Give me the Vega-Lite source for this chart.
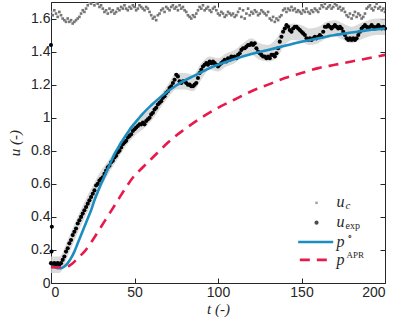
{
  "$schema": "https://vega.github.io/schema/vega-lite/v6.json",
  "width": 334,
  "height": 281,
  "autosize": {"type": "none"},
  "padding": {"left": 51, "top": 2, "right": 13, "bottom": 44},
  "config": {
    "view": {"stroke": "#262626", "strokeWidth": 1},
    "axis": {"domain": false, "grid": false, "tickColor": "#262626", "tickSize": -5, "labelFont": "Liberation Sans", "labelFontSize": 14, "labelColor": "#262626", "titleFont": "Liberation Serif", "titleFontStyle": "italic", "titleFontWeight": "normal", "titleFontSize": 15, "titleColor": "#262626"}
  },
  "datasets": {
    "uc": [
      {"t":0,"u":1.64},{"t":1,"u":1.62},{"t":2,"u":1.65},{"t":3,"u":1.63},{"t":4,"u":1.61},{"t":5,"u":1.64},{"t":6,"u":1.62},{"t":7,"u":1.60},
      {"t":8,"u":1.59},{"t":9,"u":1.58},{"t":10,"u":1.60},{"t":11,"u":1.58},{"t":12,"u":1.59},{"t":13,"u":1.57},{"t":14,"u":1.58},{"t":15,"u":1.59},{"t":16,"u":1.60},{"t":17,"u":1.61},
      {"t":18,"u":1.63},{"t":19,"u":1.65},{"t":20,"u":1.64},{"t":21,"u":1.66},
      {"t":22,"u":1.68},{"t":23,"u":1.70},{"t":24,"u":1.69},{"t":25,"u":1.71},{"t":26,"u":1.68},{"t":27,"u":1.70},{"t":28,"u":1.69},{"t":29,"u":1.67},{"t":30,"u":1.68},{"t":31,"u":1.66},
      {"t":32,"u":1.64},{"t":33,"u":1.65},{"t":34,"u":1.63},{"t":35,"u":1.66},{"t":36,"u":1.64},{"t":37,"u":1.65},{"t":38,"u":1.63},{"t":39,"u":1.64},{"t":40,"u":1.66},{"t":41,"u":1.65},
      {"t":42,"u":1.67},{"t":43,"u":1.66},{"t":44,"u":1.68},{"t":45,"u":1.66},{"t":46,"u":1.65},{"t":47,"u":1.67},{"t":48,"u":1.66},{"t":49,"u":1.68},{"t":50,"u":1.67},{"t":51,"u":1.65},{"t":52,"u":1.66},{"t":53,"u":1.68},{"t":54,"u":1.67},{"t":55,"u":1.66},{"t":56,"u":1.65},{"t":57,"u":1.67},{"t":58,"u":1.66},{"t":59,"u":1.64},
      {"t":60,"u":1.62},{"t":61,"u":1.60},{"t":62,"u":1.61},{"t":63,"u":1.59},{"t":64,"u":1.62},{"t":65,"u":1.63},
      {"t":66,"u":1.65},{"t":67,"u":1.66},{"t":68,"u":1.64},{"t":69,"u":1.67},{"t":70,"u":1.66},{"t":71,"u":1.65},
      {"t":72,"u":1.67},{"t":73,"u":1.68},{"t":74,"u":1.66},{"t":75,"u":1.67},{"t":76,"u":1.65},{"t":77,"u":1.68},{"t":78,"u":1.66},{"t":79,"u":1.67},{"t":80,"u":1.65},{"t":81,"u":1.64},
      {"t":82,"u":1.62},{"t":83,"u":1.61},{"t":84,"u":1.60},{"t":85,"u":1.62},{"t":86,"u":1.61},{"t":87,"u":1.63},
      {"t":88,"u":1.65},{"t":89,"u":1.67},{"t":90,"u":1.66},{"t":91,"u":1.68},{"t":92,"u":1.65},{"t":93,"u":1.66},{"t":94,"u":1.67},{"t":95,"u":1.65},{"t":96,"u":1.64},{"t":97,"u":1.66},{"t":98,"u":1.67},{"t":99,"u":1.65},
      {"t":100,"u":1.63},{"t":101,"u":1.62},{"t":102,"u":1.64},{"t":103,"u":1.63},{"t":104,"u":1.61},{"t":105,"u":1.62},{"t":106,"u":1.64},{"t":107,"u":1.63},{"t":108,"u":1.62},{"t":109,"u":1.63},{"t":110,"u":1.61},{"t":111,"u":1.62},{"t":112,"u":1.64},
      {"t":113,"u":1.66},{"t":114,"u":1.61},{"t":115,"u":1.65},{"t":116,"u":1.60},{"t":117,"u":1.63},{"t":118,"u":1.66},{"t":119,"u":1.62},{"t":120,"u":1.64},
      {"t":121,"u":1.63},{"t":122,"u":1.65},{"t":123,"u":1.64},{"t":124,"u":1.62},{"t":125,"u":1.63},{"t":126,"u":1.65},{"t":127,"u":1.64},{"t":128,"u":1.63},{"t":129,"u":1.62},{"t":130,"u":1.64},
      {"t":131,"u":1.60},{"t":132,"u":1.59},{"t":133,"u":1.61},{"t":134,"u":1.58},{"t":135,"u":1.60},{"t":136,"u":1.59},{"t":137,"u":1.61},{"t":138,"u":1.62},
      {"t":139,"u":1.65},{"t":140,"u":1.66},{"t":141,"u":1.64},{"t":142,"u":1.66},{"t":143,"u":1.65},{"t":144,"u":1.67},{"t":145,"u":1.65},{"t":146,"u":1.66},{"t":147,"u":1.64},{"t":148,"u":1.65},
      {"t":149,"u":1.64},{"t":150,"u":1.63},{"t":151,"u":1.65},{"t":152,"u":1.64},{"t":153,"u":1.66},{"t":154,"u":1.64},{"t":155,"u":1.63},{"t":156,"u":1.65},{"t":157,"u":1.64},{"t":158,"u":1.66},{"t":159,"u":1.65},{"t":160,"u":1.64},
      {"t":161,"u":1.66},{"t":162,"u":1.68},{"t":163,"u":1.67},{"t":164,"u":1.69},{"t":165,"u":1.66},{"t":166,"u":1.67},{"t":167,"u":1.68},{"t":168,"u":1.66},{"t":169,"u":1.67},{"t":170,"u":1.69},{"t":171,"u":1.68},{"t":172,"u":1.66},{"t":173,"u":1.67},{"t":174,"u":1.65},{"t":175,"u":1.66},{"t":176,"u":1.64},
      {"t":177,"u":1.62},{"t":178,"u":1.61},{"t":179,"u":1.63},{"t":180,"u":1.60},{"t":181,"u":1.62},{"t":182,"u":1.64},{"t":183,"u":1.61},{"t":184,"u":1.63},{"t":185,"u":1.62},{"t":186,"u":1.60},{"t":187,"u":1.61},{"t":188,"u":1.63},
      {"t":189,"u":1.66},{"t":190,"u":1.67},{"t":191,"u":1.68},{"t":192,"u":1.66},{"t":193,"u":1.65},{"t":194,"u":1.67},{"t":195,"u":1.69},{"t":196,"u":1.66},{"t":197,"u":1.67},{"t":198,"u":1.65},{"t":199,"u":1.66},{"t":200,"u":1.64}
    ],
    "exp": [
      {"t":0,"u":1.44},{"t":0.5,"u":0.34},{"t":0.3,"u":0.19},
      {"t":0,"u":0.12},{"t":1,"u":0.11},{"t":2,"u":0.12},{"t":3,"u":0.11},{"t":4,"u":0.12},{"t":5,"u":0.11},{"t":6,"u":0.12},
      {"t":7,"u":0.14},{"t":8,"u":0.16},{"t":9,"u":0.19},{"t":10,"u":0.21},{"t":11,"u":0.24},{"t":12,"u":0.26},{"t":13,"u":0.29},{"t":14,"u":0.31},{"t":15,"u":0.33},{"t":16,"u":0.36},{"t":17,"u":0.38},{"t":18,"u":0.40},{"t":19,"u":0.42},{"t":20,"u":0.44},
      {"t":21,"u":0.46},{"t":22,"u":0.48},{"t":23,"u":0.50},{"t":24,"u":0.52},{"t":25,"u":0.54},{"t":26,"u":0.56},{"t":27,"u":0.59},{"t":28,"u":0.60},{"t":29,"u":0.62},{"t":30,"u":0.63},
      {"t":31,"u":0.64},{"t":32,"u":0.66},{"t":33,"u":0.68},{"t":34,"u":0.70},{"t":35,"u":0.71},{"t":36,"u":0.73},{"t":37,"u":0.74},{"t":38,"u":0.76},{"t":39,"u":0.77},{"t":40,"u":0.79},
      {"t":41,"u":0.80},{"t":42,"u":0.82},{"t":43,"u":0.84},{"t":44,"u":0.85},{"t":45,"u":0.86},{"t":46,"u":0.88},{"t":47,"u":0.89},{"t":48,"u":0.90},{"t":49,"u":0.92},{"t":50,"u":0.93},
      {"t":51,"u":0.94},{"t":52,"u":0.95},{"t":53,"u":0.96},{"t":54,"u":0.96},{"t":55,"u":0.97},{"t":56,"u":0.96},{"t":57,"u":0.98},{"t":58,"u":0.99},{"t":59,"u":1.00},{"t":60,"u":1.02},
      {"t":61,"u":1.03},{"t":62,"u":1.05},{"t":63,"u":1.06},{"t":64,"u":1.08},{"t":65,"u":1.09},{"t":66,"u":1.10},{"t":67,"u":1.12},{"t":68,"u":1.13},{"t":69,"u":1.15},{"t":70,"u":1.16},
      {"t":71,"u":1.18},{"t":72,"u":1.19},{"t":73,"u":1.21},{"t":74,"u":1.23},{"t":75,"u":1.26},{"t":76,"u":1.25},{"t":77,"u":1.22},{"t":78,"u":1.21},{"t":79,"u":1.22},{"t":80,"u":1.22},
      {"t":81,"u":1.21},{"t":82,"u":1.20},{"t":83,"u":1.20},{"t":84,"u":1.19},{"t":85,"u":1.19},{"t":86,"u":1.20},{"t":87,"u":1.21},{"t":88,"u":1.24},{"t":89,"u":1.27},{"t":90,"u":1.29},
      {"t":91,"u":1.31},{"t":92,"u":1.32},{"t":93,"u":1.33},{"t":94,"u":1.32},{"t":95,"u":1.34},{"t":96,"u":1.33},{"t":97,"u":1.34},{"t":98,"u":1.33},{"t":99,"u":1.32},{"t":100,"u":1.31},
      {"t":101,"u":1.32},{"t":102,"u":1.33},{"t":103,"u":1.34},{"t":104,"u":1.35},{"t":105,"u":1.34},{"t":106,"u":1.36},{"t":107,"u":1.35},{"t":108,"u":1.37},{"t":109,"u":1.36},{"t":110,"u":1.37},
      {"t":111,"u":1.36},{"t":112,"u":1.38},{"t":113,"u":1.39},{"t":114,"u":1.41},{"t":115,"u":1.42},{"t":116,"u":1.42},{"t":117,"u":1.43},{"t":118,"u":1.44},{"t":119,"u":1.44},{"t":120,"u":1.45},
      {"t":121,"u":1.44},{"t":122,"u":1.45},{"t":123,"u":1.42},{"t":124,"u":1.40},{"t":125,"u":1.39},{"t":126,"u":1.38},{"t":127,"u":1.37},{"t":128,"u":1.37},{"t":129,"u":1.36},{"t":130,"u":1.37},
      {"t":131,"u":1.36},{"t":132,"u":1.38},{"t":133,"u":1.38},{"t":134,"u":1.37},{"t":135,"u":1.39},{"t":136,"u":1.42},{"t":137,"u":1.46},{"t":138,"u":1.49},{"t":139,"u":1.52},{"t":140,"u":1.54},
      {"t":141,"u":1.56},{"t":142,"u":1.55},{"t":143,"u":1.53},{"t":144,"u":1.52},{"t":145,"u":1.54},{"t":146,"u":1.55},{"t":147,"u":1.55},{"t":148,"u":1.54},{"t":149,"u":1.53},{"t":150,"u":1.52},
      {"t":151,"u":1.51},{"t":152,"u":1.50},{"t":153,"u":1.48},{"t":154,"u":1.47},{"t":155,"u":1.48},{"t":156,"u":1.47},{"t":157,"u":1.48},{"t":158,"u":1.49},{"t":159,"u":1.48},{"t":160,"u":1.49},
      {"t":161,"u":1.50},{"t":162,"u":1.49},{"t":163,"u":1.52},{"t":164,"u":1.55},{"t":165,"u":1.55},{"t":166,"u":1.56},{"t":167,"u":1.55},{"t":168,"u":1.54},{"t":169,"u":1.55},{"t":170,"u":1.56},
      {"t":171,"u":1.55},{"t":172,"u":1.54},{"t":173,"u":1.55},{"t":174,"u":1.54},{"t":175,"u":1.52},{"t":176,"u":1.50},{"t":177,"u":1.48},{"t":178,"u":1.47},{"t":179,"u":1.48},{"t":180,"u":1.47},
      {"t":181,"u":1.48},{"t":182,"u":1.47},{"t":183,"u":1.48},{"t":184,"u":1.50},{"t":185,"u":1.52},{"t":186,"u":1.54},{"t":187,"u":1.55},{"t":188,"u":1.56},{"t":189,"u":1.55},{"t":190,"u":1.54},
      {"t":191,"u":1.55},{"t":192,"u":1.56},{"t":193,"u":1.55},{"t":194,"u":1.54},{"t":195,"u":1.55},{"t":196,"u":1.56},{"t":197,"u":1.55},{"t":198,"u":1.54},{"t":199,"u":1.55},{"t":200,"u":1.54}
    ],
    "band": [
      {"t":0,"lo":0.06,"hi":0.16},{"t":5,"lo":0.06,"hi":0.16},{"t":10,"lo":0.16,"hi":0.26},{"t":15,"lo":0.28,"hi":0.38},{"t":20,"lo":0.39,"hi":0.49},
      {"t":25,"lo":0.49,"hi":0.59},{"t":30,"lo":0.58,"hi":0.68},{"t":35,"lo":0.67,"hi":0.75},{"t":40,"lo":0.75,"hi":0.83},{"t":45,"lo":0.83,"hi":0.91},
      {"t":50,"lo":0.89,"hi":0.98},{"t":55,"lo":0.93,"hi":1.02},{"t":60,"lo":0.98,"hi":1.06},{"t":65,"lo":1.05,"hi":1.13},{"t":70,"lo":1.12,"hi":1.20},
      {"t":75,"lo":1.17,"hi":1.27},{"t":80,"lo":1.17,"hi":1.27},{"t":85,"lo":1.16,"hi":1.26},{"t":90,"lo":1.23,"hi":1.33},{"t":95,"lo":1.29,"hi":1.37},
      {"t":100,"lo":1.28,"hi":1.36},{"t":105,"lo":1.31,"hi":1.39},{"t":110,"lo":1.33,"hi":1.41},{"t":115,"lo":1.37,"hi":1.45},{"t":120,"lo":1.38,"hi":1.48},
      {"t":125,"lo":1.35,"hi":1.45},{"t":130,"lo":1.34,"hi":1.44},{"t":135,"lo":1.36,"hi":1.48},{"t":140,"lo":1.44,"hi":1.56},{"t":145,"lo":1.47,"hi":1.57},
      {"t":150,"lo":1.46,"hi":1.56},{"t":155,"lo":1.44,"hi":1.54},{"t":160,"lo":1.45,"hi":1.55},{"t":165,"lo":1.48,"hi":1.58},{"t":170,"lo":1.49,"hi":1.59},
      {"t":175,"lo":1.47,"hi":1.57},{"t":180,"lo":1.45,"hi":1.55},{"t":185,"lo":1.47,"hi":1.57},{"t":190,"lo":1.49,"hi":1.59},{"t":195,"lo":1.50,"hi":1.60},{"t":200,"lo":1.50,"hi":1.60}
    ],
    "po": [
      {"t":0,"u":0.10},{"t":2,"u":0.095},{"t":4,"u":0.09},{"t":6,"u":0.09},{"t":8,"u":0.10},{"t":10,"u":0.12},{"t":12,"u":0.15},{"t":14,"u":0.19},{"t":16,"u":0.24},{"t":18,"u":0.29},
      {"t":20,"u":0.34},{"t":22,"u":0.39},{"t":24,"u":0.44},{"t":26,"u":0.50},{"t":28,"u":0.55},{"t":30,"u":0.60},{"t":32,"u":0.645},{"t":34,"u":0.69},{"t":36,"u":0.735},{"t":38,"u":0.78},
      {"t":40,"u":0.815},{"t":42,"u":0.85},{"t":44,"u":0.88},{"t":46,"u":0.91},{"t":48,"u":0.94},{"t":50,"u":0.965},{"t":55,"u":1.025},{"t":60,"u":1.075},{"t":65,"u":1.12},{"t":70,"u":1.16},
      {"t":75,"u":1.195},{"t":80,"u":1.225},{"t":85,"u":1.25},{"t":90,"u":1.275},{"t":95,"u":1.30},{"t":100,"u":1.32},{"t":110,"u":1.355},{"t":120,"u":1.385},{"t":130,"u":1.41},{"t":140,"u":1.435},
      {"t":150,"u":1.46},{"t":160,"u":1.48},{"t":170,"u":1.50},{"t":180,"u":1.515},{"t":190,"u":1.53},{"t":200,"u":1.54}
    ],
    "papr": [
      {"t":0,"u":0.095},{"t":4,"u":0.095},{"t":7,"u":0.095},{"t":10,"u":0.10},{"t":13,"u":0.12},{"t":16,"u":0.15},{"t":20,"u":0.19},{"t":25,"u":0.26},{"t":30,"u":0.34},{"t":35,"u":0.42},
      {"t":40,"u":0.50},{"t":45,"u":0.58},{"t":50,"u":0.65},{"t":55,"u":0.70},{"t":60,"u":0.75},{"t":65,"u":0.80},{"t":70,"u":0.85},{"t":80,"u":0.93},{"t":90,"u":1.00},{"t":100,"u":1.06},
      {"t":110,"u":1.11},{"t":120,"u":1.16},{"t":130,"u":1.20},{"t":140,"u":1.24},{"t":150,"u":1.27},{"t":160,"u":1.30},{"t":170,"u":1.32},{"t":180,"u":1.34},{"t":190,"u":1.36},{"t":200,"u":1.38}
    ]
  },
  "layer": [
    {
      "data": {"name": "band"},
      "mark": {"type": "area", "color": "#d2d2d2", "opacity": 0.8, "interpolate": "monotone"},
      "encoding": {
        "x": {"field": "t", "type": "quantitative", "scale": {"domain": [0, 200], "nice": false}, "axis": {"orient": "bottom", "values": [0, 50, 100, 150, 200], "title": "t (-)", "labelPadding": 7, "titlePadding": 2}},
        "y": {"field": "lo", "type": "quantitative", "scale": {"domain": [0, 1.7], "nice": false}, "axis": {"orient": "left", "values": [0, 0.2, 0.4, 0.6, 0.8, 1, 1.2, 1.4, 1.6], "format": "~g", "title": "u (-)", "labelPadding": 6, "titlePadding": 8}},
        "y2": {"field": "hi"}
      }
    },
    {
      "data": {"name": "uc"},
      "mark": {"type": "square", "color": "#777777", "size": 7, "opacity": 1, "clip": true},
      "encoding": {
        "x": {"field": "t", "type": "quantitative", "axis": null},
        "y": {"field": "u", "type": "quantitative", "axis": null}
      }
    },
    {
      "data": {"name": "exp"},
      "mark": {"type": "circle", "color": "#000000", "size": 17, "opacity": 1},
      "encoding": {
        "x": {"field": "t", "type": "quantitative", "axis": null},
        "y": {"field": "u", "type": "quantitative", "axis": null}
      }
    },
    {
      "data": {"name": "po"},
      "mark": {"type": "line", "color": "#1b8dc0", "strokeWidth": 2.6, "interpolate": "monotone"},
      "encoding": {
        "x": {"field": "t", "type": "quantitative", "axis": null},
        "y": {"field": "u", "type": "quantitative", "axis": null}
      }
    },
    {
      "data": {"name": "papr"},
      "mark": {"type": "line", "color": "#e8194b", "strokeWidth": 2.6, "strokeDash": [10, 7], "interpolate": "monotone"},
      "encoding": {
        "x": {"field": "t", "type": "quantitative", "axis": null},
        "y": {"field": "u", "type": "quantitative", "axis": null}
      }
    },
    {
      "data": {"name": "po"},
      "mark": {"type": "point", "opacity": 0},
      "encoding": {
        "x": {"field": "t", "type": "quantitative", "axis": {"orient": "top", "values": [0, 50, 100, 150, 200], "labels": false, "title": null}},
        "y": {"field": "u", "type": "quantitative", "axis": {"orient": "right", "values": [0, 0.2, 0.4, 0.6, 0.8, 1, 1.2, 1.4, 1.6], "labels": false, "title": null}}
      }
    },
    {
      "data": {"values": [{"t": 159, "u": 0.485}]},
      "mark": {"type": "square", "color": "#777777", "size": 6},
      "encoding": {"x": {"field": "t", "type": "quantitative", "axis": null}, "y": {"field": "u", "type": "quantitative", "axis": null}}
    },
    {
      "data": {"values": [{"t": 159, "u": 0.365}]},
      "mark": {"type": "circle", "color": "#000000", "size": 17},
      "encoding": {"x": {"field": "t", "type": "quantitative", "axis": null}, "y": {"field": "u", "type": "quantitative", "axis": null}}
    },
    {
      "data": {"values": [{"t": 148, "u": 0.248}, {"t": 169, "u": 0.248}]},
      "mark": {"type": "line", "color": "#1b8dc0", "strokeWidth": 2.6},
      "encoding": {"x": {"field": "t", "type": "quantitative", "axis": null}, "y": {"field": "u", "type": "quantitative", "axis": null}}
    },
    {
      "data": {"values": [{"t": 149, "u": 0.14}, {"t": 169, "u": 0.14}]},
      "mark": {"type": "line", "color": "#e8194b", "strokeWidth": 2.6, "strokeDash": [10, 7]},
      "encoding": {"x": {"field": "t", "type": "quantitative", "axis": null}, "y": {"field": "u", "type": "quantitative", "axis": null}}
    },
    {
      "data": {"values": [{"t": 171, "u": 0.49, "label": "u"}, {"t": 171, "u": 0.37, "label": "u"}, {"t": 171, "u": 0.25, "label": "p"}, {"t": 171, "u": 0.14, "label": "p"}]},
      "mark": {"type": "text", "align": "left", "baseline": "middle", "font": "Liberation Serif", "fontStyle": "italic", "fontSize": 16, "color": "#262626"},
      "encoding": {"x": {"field": "t", "type": "quantitative", "axis": null}, "y": {"field": "u", "type": "quantitative", "axis": null}, "text": {"field": "label"}}
    },
    {
      "data": {"values": [{"t": 171, "u": 0.49, "label": "c"}]},
      "mark": {"type": "text", "align": "left", "baseline": "middle", "font": "Liberation Serif", "fontStyle": "italic", "fontSize": 11, "dx": 9, "dy": 4, "color": "#262626"},
      "encoding": {"x": {"field": "t", "type": "quantitative", "axis": null}, "y": {"field": "u", "type": "quantitative", "axis": null}, "text": {"field": "label"}}
    },
    {
      "data": {"values": [{"t": 171, "u": 0.37, "label": "exp"}]},
      "mark": {"type": "text", "align": "left", "baseline": "middle", "font": "Liberation Serif", "fontSize": 10, "dx": 9, "dy": 4, "color": "#262626"},
      "encoding": {"x": {"field": "t", "type": "quantitative", "axis": null}, "y": {"field": "u", "type": "quantitative", "axis": null}, "text": {"field": "label"}}
    },
    {
      "data": {"values": [{"t": 171, "u": 0.25, "label": "∘"}, {"t": 171, "u": 0.14, "label": "APR"}]},
      "mark": {"type": "text", "align": "left", "baseline": "middle", "font": "Liberation Serif", "fontSize": 9, "dx": 10, "dy": -5, "color": "#262626"},
      "encoding": {"x": {"field": "t", "type": "quantitative", "axis": null}, "y": {"field": "u", "type": "quantitative", "axis": null}, "text": {"field": "label"}}
    }
  ]
}
